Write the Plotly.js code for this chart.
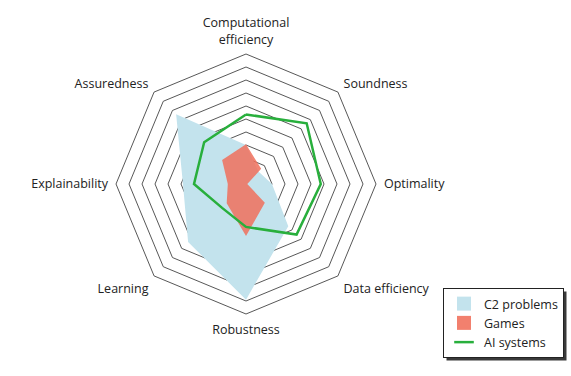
<!DOCTYPE html>
<html>
<head>
<meta charset="utf-8">
<script src="https://cdn.plot.ly/plotly-3.0.1.min.js"></script>
<style>html,body{margin:0;padding:0;background:#fff;}#chart{width:571px;height:376px;}</style>
</head>
<body>
<div id="chart"></div>
<script>
var categories = ['Computational<br>efficiency', 'Soundness', 'Optimality', 'Data efficiency', 'Robustness', 'Learning', 'Explainability', 'Assuredness'];
var c2Problems = [3.0, 1.35, 2.0, 4.6, 8.9, 6.3, 4.85, 7.6];
var games = [3.05, 1.65, 0.1, 2.05, 4.0, 2.1, 1.4, 2.6];
var aiSystems = [5.35, 6.6, 5.75, 5.5, 3.3, 2.6, 4.0, 4.55];
var seriesNames = ['C2 problems', 'Games', 'AI systems'];

var blue = 'rgb(195,227,237)';
var red = 'rgba(240,112,92,0.85)';
var redSolid = 'rgb(242,128,110)';
var green = 'rgb(40,175,60)';

function closed(a) { return a.concat([a[0]]); }
var theta = closed(categories);

var traces = [
  {type: 'scatterpolar', name: seriesNames[0], r: closed(c2Problems), theta: theta, showlegend: false,
   mode: 'lines', fill: 'toself', fillcolor: blue, line: {width: 0, color: blue}},
  {type: 'scatterpolar', name: seriesNames[1], r: closed(games), theta: theta, showlegend: false,
   mode: 'lines', fill: 'toself', fillcolor: red, line: {width: 0, color: red}},
  {type: 'scatterpolar', name: seriesNames[2], r: closed(aiSystems), theta: theta, showlegend: false,
   mode: 'lines', line: {width: 2.5, color: green}},
  // legend entries
  {type: 'scatterpolar', name: seriesNames[0], r: [null], theta: [null], mode: 'markers',
   marker: {symbol: 'square', size: 14, color: blue}},
  {type: 'scatterpolar', name: seriesNames[1], r: [null], theta: [null], mode: 'markers',
   marker: {symbol: 'square', size: 14, color: redSolid}},
  {type: 'scatterpolar', name: seriesNames[2], r: [null], theta: [null], mode: 'markers',
   marker: {symbol: 'line-ew', size: 14, color: green, line: {width: 2.5, color: green}}}
];

var layout = {
  width: 571, height: 376,
  margin: {l: 0, r: 0, t: 0, b: 0},
  paper_bgcolor: '#fff',
  font: {family: 'Open Sans, Noto Sans, sans-serif', size: 12.5, color: '#222'},
  showlegend: true,
  legend: {x: 443/571, y: 1 - 288/376, xanchor: 'left', yanchor: 'top',
           bgcolor: '#fff', bordercolor: '#222', borderwidth: 1,
           font: {size: 12.5, color: '#222'}, itemwidth: 30, tracegroupgap: 0},
  shapes: [],
  polar: {
    domain: {x: [116/571, 376/571], y: [1 - 314/376, 1 - 54/376]},
    gridshape: 'linear',
    bgcolor: 'rgba(0,0,0,0)',
    radialaxis: {range: [0, 10], dtick: 1, tick0: 0, showticklabels: false, ticks: '',
                 showline: false, gridcolor: '#444', gridwidth: 0.9},
    angularaxis: {rotation: 90, direction: 'clockwise', showgrid: false,
                  ticks: 'outside', ticklen: 5, tickcolor: 'rgba(0,0,0,0)',
                  showline: true, linecolor: '#444', linewidth: 0.9,
                  tickfont: {size: 12.5, color: '#222'}}
  }
};

var gd = document.getElementById('chart');
Plotly.newPlot(gd, traces, layout, {displayModeBar: false, staticPlot: true}).then(function () {
  var bg = gd.querySelector('.legend rect.bg');
  if (!bg) return;
  var r = bg.getBoundingClientRect();
  var g = gd.getBoundingClientRect();
  var W = 571, H = 376, off = 3;
  var x0 = r.left - g.left + off, x1 = r.right - g.left + off;
  var y0 = r.top - g.top + off, y1 = r.bottom - g.top + off;
  return Plotly.relayout(gd, {shapes: [{type: 'rect', xref: 'paper', yref: 'paper',
    x0: x0 / W, x1: x1 / W, y0: 1 - y1 / H, y1: 1 - y0 / H,
    fillcolor: '#3a3a3a', line: {width: 0}, layer: 'above'}]});
});
</script>
</body>
</html>
